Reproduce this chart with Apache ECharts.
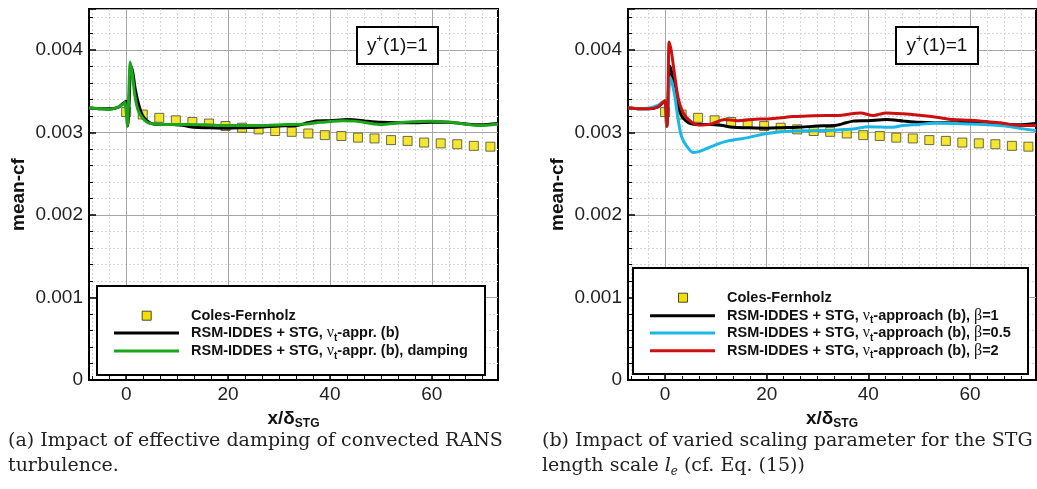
<!DOCTYPE html>
<html>
<head>
<meta charset="utf-8">
<script src="https://cdn.jsdelivr.net/npm/echarts@6/dist/echarts.min.js"></script>
<style>
  html, body { margin: 0; padding: 0; background: #fff; }
  #chart { width: 1037px; height: 489px; }
</style>
</head>
<body>
<div id="chart"></div>
<script>
// Coles-Fernholz reference points (same in both panels)
const cfX = [0, 3.25, 6.5, 9.75, 13, 16.25, 19.5, 22.75, 26, 29.25, 32.5, 35.75, 39, 42.25, 45.5, 48.75, 52, 55.25, 58.5, 61.75, 65, 68.25, 71.5];
const cfY = [0.00325, 0.00322, 0.00318, 0.00315, 0.00313, 0.00311, 0.00308, 0.00306, 0.00304, 0.00302, 0.00301, 0.00299, 0.00297, 0.00296, 0.00294, 0.00293, 0.00291, 0.00290, 0.00288, 0.00287, 0.00286, 0.00284, 0.00283];

// RSM-IDDES + STG, nu_t approach (b), beta=1 (black, both panels)
const blackX = [-7.3, -5, -3, -1.5, -0.5, 0, 0.3, 0.6, 0.9, 1.3, 1.8, 2.5, 3.2, 4, 5, 6.5, 9, 11, 13.4, 16, 20, 23, 26, 30, 33.7, 35.6, 37, 40, 43.5, 47, 50, 53, 56.6, 60, 63.2, 66, 69.7, 73];
const blackY = [0.00330, 0.00329, 0.00329, 0.00331, 0.00336, 0.00338, 0.00308, 0.00340, 0.00381, 0.00373, 0.00352, 0.00333, 0.00321, 0.00315, 0.00311, 0.00310, 0.00310, 0.00309, 0.003065, 0.00306, 0.003055, 0.00306, 0.003065, 0.00308, 0.00309, 0.00312, 0.00314, 0.003145, 0.00316, 0.00314, 0.003125, 0.00312, 0.00312, 0.003125, 0.003125, 0.00311, 0.003095, 0.00311];

// damping (green, panel a)
const greenX = [-7.3, -5, -3.5, -1.6, -0.5, -0.25, 0.25, 0.5, 0.8, 1.25, 1.7, 2.35, 3.3, 4.3, 5.6, 8, 12, 16, 20, 25, 28, 31.5, 35.4, 38, 40, 42.5, 45, 49.8, 54.7, 59.6, 64.5, 67, 69.4, 73];
const greenY = [0.00330, 0.00329, 0.00328, 0.00331, 0.00335, 0.00337, 0.003085, 0.00345, 0.003857, 0.00369, 0.00345, 0.00327, 0.00317, 0.00312, 0.003106, 0.00310, 0.00310, 0.003095, 0.003086, 0.003086, 0.00309, 0.003098, 0.003105, 0.003125, 0.003135, 0.003146, 0.00314, 0.00310, 0.003125, 0.003138, 0.003122, 0.00310, 0.003086, 0.003105];

// beta=0.5 (cyan, panel b)
const cyanX = [-7.3, -5, -3, -1.5, -0.5, 0, 0.3, 0.6, 1.0, 1.4, 1.9, 2.55, 3.2, 4.2, 5.5, 7.1, 9.8, 12.4, 16.3, 20, 25, 30.4, 33, 37, 40, 44.8, 46.8, 50, 53.4, 57, 60, 64.5, 67, 69.7, 73];
const cyanY = [0.00330, 0.00329, 0.00330, 0.00333, 0.00337, 0.00338, 0.00308, 0.00335, 0.00367, 0.00360, 0.00345, 0.003167, 0.00296, 0.00284, 0.00276, 0.00278, 0.00285, 0.00290, 0.00294, 0.00299, 0.00302, 0.003025, 0.00303, 0.003045, 0.003073, 0.003065, 0.003086, 0.00310, 0.003118, 0.00311, 0.003106, 0.003094, 0.00308, 0.003053, 0.003025];

// beta=2 (red, panel b)
const redX = [-7.3, -5, -3.3, -1.5, -0.7, -0.07, 0.4, 0.6, 0.8, 1.25, 1.9, 2.55, 3.5, 4.85, 6.5, 9.1, 11.7, 14.3, 18.7, 20.2, 25.2, 27.2, 31.7, 33.7, 37.6, 38.5, 40.9, 43.5, 46.8, 50, 53.4, 56.6, 60, 63.2, 66, 69.7, 73];
const redY = [0.00330, 0.00329, 0.00329, 0.00331, 0.00335, 0.00339, 0.003077, 0.00360, 0.00410, 0.00398, 0.00369, 0.00343, 0.00325, 0.003146, 0.003094, 0.003106, 0.00316, 0.003146, 0.003167, 0.003167, 0.003195, 0.00320, 0.003207, 0.003207, 0.003236, 0.00324, 0.003207, 0.00324, 0.003228, 0.00321, 0.003187, 0.003159, 0.00315, 0.003134, 0.00312, 0.003086, 0.003086];

// tick positions
const xTicks = [0, 20, 40, 60];
const xMinor = [-6.667, -3.333, 3.333, 6.667, 10, 13.333, 16.667, 23.333, 26.667, 30, 33.333, 36.667, 43.333, 46.667, 50, 53.333, 56.667, 63.333, 66.667, 70];
const yTicks = [0, 0.001, 0.002, 0.003, 0.004];

const pairs = (xs, ys) => xs.map((x, i) => [x, ys[i]]);

const SANS = '"Liberation Sans", Arial, sans-serif';
const SERIF = '"DejaVu Serif", "Liberation Serif", serif';
const GREEK = '"Liberation Serif", serif';

const chart = echarts.init(document.getElementById('chart'), null, { renderer: 'canvas' });

// main x axis: labels, major ticks and solid grid
function makeX(gi) {
    return {
        type: 'value', gridIndex: gi, min: -7.3, max: 73,
        name: '{a|x/δ}{b|STG}', nameLocation: 'middle', nameGap: 17,
        nameTextStyle: {
            rich: {
                a: { fontFamily: SANS, fontWeight: 'bold', fontSize: 19, lineHeight: 22, color: '#111' },
                b: { fontFamily: SANS, fontWeight: 'bold', fontSize: 12, lineHeight: 12, verticalAlign: 'bottom', color: '#111' }
            }
        },
        axisLine: { show: true, onZero: false, lineStyle: { color: '#000', width: 2 } },
        axisTick: { inside: true, length: 7, customValues: xTicks, lineStyle: { color: '#000', width: 1.5 } },
        splitLine: { show: true, lineStyle: { color: '#a6a6a6', width: 1 } },
        axisLabel: { fontFamily: SANS, fontSize: 19, color: '#222', margin: 5, customValues: xTicks }
    };
}
// helper x axis on same grid: minor ticks + dotted grid
function makeXMinor(gi) {
    return {
        type: 'value', gridIndex: gi, min: -7.3, max: 73, position: 'bottom',
        axisLine: { show: false, onZero: false },
        axisTick: { show: true, inside: true, length: 4, customValues: xMinor, lineStyle: { color: '#000', width: 1 } },
        splitLine: { show: true, lineStyle: { color: '#d6d6d6', width: 1, type: [2, 2] } },
        axisLabel: { show: false },
        z: 0
    };
}

function makeY(gi) {
    return {
        type: 'value', gridIndex: gi, min: 0, max: 0.0045, interval: 0.001,
        name: 'mean-cf', nameLocation: 'middle', nameGap: 61, nameRotate: 90,
        nameTextStyle: { fontFamily: SANS, fontWeight: 'bold', fontSize: 19, color: '#111' },
        axisLine: { show: true, onZero: false, lineStyle: { color: '#000', width: 2 } },
        axisTick: { inside: true, length: 7, lineStyle: { color: '#000', width: 1.5 } },
        minorTick: { show: true, splitNumber: 5, length: 4, lineStyle: { color: '#000', width: 1 } },
        splitLine: { show: true, lineStyle: { color: '#a6a6a6', width: 1 } },
        minorSplitLine: { show: true, lineStyle: { color: '#d6d6d6', width: 1, type: [2, 2] } },
        axisLabel: {
            fontFamily: SANS, fontSize: 19, color: '#222', margin: 6,
            formatter: v => {
                const hit = yTicks.find(t => Math.abs(t - v) < 1e-9);
                if (hit === undefined) return '';
                return hit === 0 ? '0' : hit.toFixed(3);
            }
        }
    };
}

function lineSeries(name, gi, xs, ys, color) {
    return {
        name, type: 'line', xAxisIndex: gi, yAxisIndex: gi,
        data: pairs(xs, ys), showSymbol: false, smooth: 0.25,
        lineStyle: { color, width: 3 }, itemStyle: { color }, z: 3
    };
}

function cfSeries(gi) {
    return {
        name: 'Coles-Fernholz', type: 'scatter', xAxisIndex: gi, yAxisIndex: gi,
        data: pairs(cfX, cfY), symbol: 'rect', symbolSize: 9,
        itemStyle: { color: '#f3e000', borderColor: '#4a4a2a', borderWidth: 1 }, z: 2
    };
}

// legend & annotation pieces
const legRich = {
    b: { fontFamily: SANS, fontWeight: 'bold', fontSize: 14.5, lineHeight: 20, fill: '#111', color: '#111' },
    g: { fontFamily: GREEK, fontSize: 16, lineHeight: 20, fill: '#111', color: '#111' },
    s: { fontFamily: SANS, fontWeight: 'bold', fontSize: 10, lineHeight: 10, verticalAlign: 'bottom', fill: '#111', color: '#111' }
};

function legText(x, y, text) {
    return { type: 'text', x, y, z: 101, style: { text, rich: legRich, verticalAlign: 'middle', fill: '#111' } };
}
function legLine(x1, x2, y, color) {
    return { type: 'line', z: 101, shape: { x1, y1: y, x2, y2: y }, style: { stroke: color, lineWidth: 3 } };
}
function legMarker(cx, cy) {
    return { type: 'rect', z: 101, shape: { x: cx - 4.5, y: cy - 4.5, width: 9, height: 9 }, style: { fill: '#f3e000', stroke: '#4a4a2a', lineWidth: 1 } };
}
function boxRect(x, y, w, h) {
    return { type: 'rect', z: 100, shape: { x, y, width: w, height: h }, style: { fill: '#fff', stroke: '#000', lineWidth: 2 } };
}
function yplus(x, y) {
    return {
        type: 'text', x, y, z: 101,
        style: {
            text: '{m|y}{p|+}{m|(1)=1}', align: 'center', verticalAlign: 'middle',
            rich: {
                m: { fontFamily: SANS, fontSize: 19, lineHeight: 24, fill: '#111' },
                p: { fontFamily: SANS, fontSize: 11, lineHeight: 12, verticalAlign: 'top', fill: '#111' }
            }
        }
    };
}
const capRich = {
    n: { fontFamily: SERIF, fontSize: 19, lineHeight: 24, fill: '#222' },
    i: { fontFamily: SERIF, fontStyle: 'italic', fontSize: 19, lineHeight: 24, fill: '#222' },
    s: { fontFamily: SERIF, fontStyle: 'italic', fontSize: 12, lineHeight: 12, verticalAlign: 'bottom', fill: '#222' }
};
function caption(x, y, text) {
    return { type: 'text', x, y, style: { text, rich: capRich, verticalAlign: 'middle', fill: '#222' } };
}

const graphics = [
    yplus(397.5, 45.5), boxRect(357, 27, 81, 37),
    yplus(937, 45.5), boxRect(896, 27, 82, 37),

    boxRect(97, 286, 388, 89),
    legMarker(146.7, 315.7),
    legLine(114, 179, 333, '#000'),
    legLine(114, 179, 351, '#1aa51a'),
    legText(191, 315.7, '{b|Coles-Fernholz}'),
    legText(191, 333, '{b|RSM-IDDES + STG, }{g|ν}{s|t}{b|-appr. (b)}'),
    legText(191, 351, '{b|RSM-IDDES + STG, }{g|ν}{s|t}{b|-appr. (b), damping}'),

    boxRect(633, 268, 395, 106),
    legMarker(683, 297.7),
    legLine(650, 715, 315.7, '#000'),
    legLine(650, 715, 333, '#1ab8e6'),
    legLine(650, 715, 350.7, '#cc1010'),
    legText(727, 297.7, '{b|Coles-Fernholz}'),
    legText(727, 315.7, '{b|RSM-IDDES + STG, }{g|ν}{s|t}{b|-approach (b), }{g|β}{b|=1}'),
    legText(727, 333, '{b|RSM-IDDES + STG, }{g|ν}{s|t}{b|-approach (b), }{g|β}{b|=0.5}'),
    legText(727, 350.7, '{b|RSM-IDDES + STG, }{g|ν}{s|t}{b|-approach (b), }{g|β}{b|=2}'),

    caption(8, 441, '{n|(a) Impact of effective damping of convected RANS}'),
    caption(8, 466, '{n|turbulence.}'),
    caption(542, 441, '{n|(b) Impact of varied scaling parameter for the STG}'),
    caption(542, 466, '{n|length scale }{i|l}{s|e}{n| (cf. Eq. (15))}')
];

const option = {
    backgroundColor: '#fff',
    animation: false,
    grid: [
        { left: 89, top: 9, width: 409, height: 371, show: true, borderColor: '#000', borderWidth: 2, backgroundColor: '#fff' },
        { left: 628, top: 9, width: 408, height: 371, show: true, borderColor: '#000', borderWidth: 2, backgroundColor: '#fff' }
    ],
    xAxis: [makeX(0), makeX(1), makeXMinor(0), makeXMinor(1)],
    yAxis: [makeY(0), makeY(1)],
    series: [
        cfSeries(0),
        lineSeries('RSM-IDDES + STG, νt-appr. (b)', 0, blackX, blackY, '#000'),
        lineSeries('RSM-IDDES + STG, νt-appr. (b), damping', 0, greenX, greenY, '#1aa51a'),
        cfSeries(1),
        lineSeries('β=1', 1, blackX, blackY, '#000'),
        lineSeries('β=0.5', 1, cyanX, cyanY, '#1ab8e6'),
        lineSeries('β=2', 1, redX, redY, '#cc1010')
    ],
    graphic: graphics
};

chart.setOption(option);
</script>
</body>
</html>
